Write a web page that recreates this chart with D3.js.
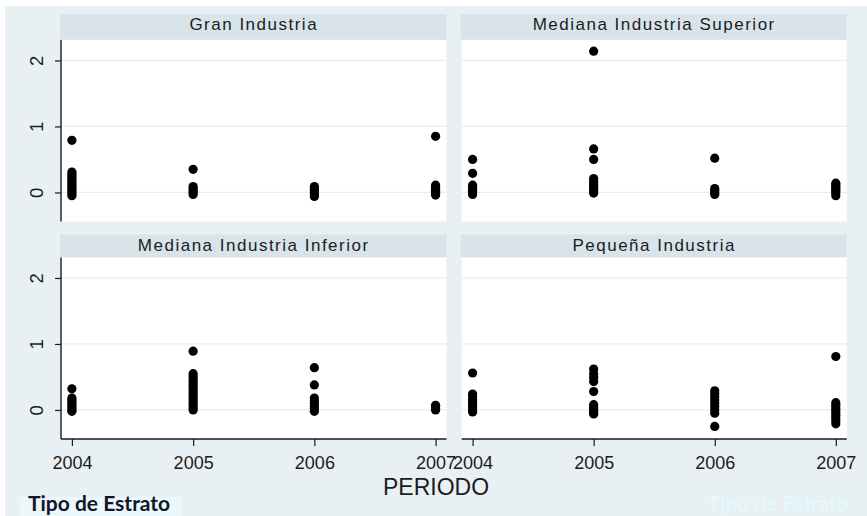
<!DOCTYPE html>
<html>
<head>
<meta charset="utf-8">
<script src="https://cdn.jsdelivr.net/npm/d3@7"></script>
<style>
  html, body { margin: 0; padding: 0; background: #ffffff; }
  svg { display: block; }
  .tick text { font-family: "Liberation Sans", Arial, sans-serif; fill: #1c1c1c; }
</style>
</head>
<body>
<svg id="chart" width="867" height="516"></svg>
<script>
// Periods on the x axis and the strata shown as facets
const periods = [2004, 2005, 2006, 2007];
const strata = ["Gran Industria", "Mediana Industria Superior", "Mediana Industria Inferior", "Pequeña Industria"];
const yTicks = [0, 1, 2];

// Observed values by stratum, one list per period (2004..2007)
const granIndustria = [
  [0.79, 0.31, 0.28, 0.25, 0.22, 0.19, 0.16, 0.13, 0.10, 0.07, 0.04, 0.01, -0.02, -0.05],
  [0.35, 0.09, 0.06, 0.03, 0.0, -0.03],
  [0.09, 0.06, 0.03, 0.0, -0.03, -0.06],
  [0.85, 0.11, 0.08, 0.05, 0.02, 0.0, -0.02, -0.04]
];
const medianaSuperior = [
  [0.50, 0.29, 0.11, 0.08, 0.05, 0.02, 0.0, -0.03],
  [2.14, 0.66, 0.50, 0.21, 0.17, 0.13, 0.10, 0.07, 0.04, 0.01, -0.01],
  [0.52, 0.06, 0.03, 0.0, -0.03],
  [0.14, 0.11, 0.08, 0.05, 0.02, -0.01, -0.05]
];
const medianaInferior = [
  [0.32, 0.18, 0.15, 0.12, 0.09, 0.06, 0.03, 0.0, -0.02],
  [0.89, 0.55, 0.51, 0.47, 0.43, 0.39, 0.35, 0.31, 0.27, 0.23, 0.19, 0.15, 0.11, 0.07, 0.03, 0.0],
  [0.64, 0.38, 0.18, 0.14, 0.10, 0.06, 0.02, -0.02],
  [0.07, 0.05, 0.02, 0.0]
];
const pequena = [
  [0.56, 0.24, 0.20, 0.16, 0.12, 0.08, 0.04, 0.0, -0.03],
  [0.62, 0.55, 0.49, 0.43, 0.28, 0.08, 0.05, 0.02, -0.01, -0.04, -0.06],
  [0.29, 0.25, 0.20, 0.15, 0.10, 0.05, 0.0, -0.05, -0.25],
  [0.81, 0.11, 0.07, 0.03, 0.0, -0.04, -0.08, -0.12, -0.16, -0.21]
];
const seriesByStratum = [granIndustria, medianaSuperior, medianaInferior, pequena];

const xTitle = "PERIODO";
const noteLeft = "Tipo de Estrato";

const svg = d3.select("#chart");
const W = 867, H = 516;

// graph region background
svg.append("rect").attr("x", 5).attr("y", 6).attr("width", W - 5).attr("height", H - 6)
  .attr("fill", "#e9f0f3");

// facet geometry
const cols = [[61, 446.5], [461.7, 846.7]];
const rows = [{ strip: [14, 39.5], plot: [40, 221.5] }, { strip: [234.5, 257.5], plot: [257.5, 439] }];
const yDomain = [-0.44, 2.31];
const xDomain = [2003.91, 2007.09];

strata.forEach((name, i) => {
  const r = Math.floor(i / 2), c = i % 2;
  const [x0, x1] = cols[c];
  const row = rows[r];
  const x = d3.scaleLinear().domain(xDomain).range([x0, x1]);
  const y = d3.scaleLinear().domain(yDomain).range([row.plot[1], row.plot[0]]);
  const g = svg.append("g");

  // strip title
  g.append("rect").attr("x", x0 - 1).attr("y", row.strip[0])
    .attr("width", x1 - x0 + 1).attr("height", row.strip[1] - row.strip[0])
    .attr("fill", "#d8e4ea");
  g.append("text").attr("x", (x0 + x1) / 2).attr("y", row.strip[0] + 16)
    .attr("text-anchor", "middle")
    .style("font-family", "'Liberation Sans', Arial, sans-serif")
    .style("font-size", "17px").style("letter-spacing", "1.5px")
    .attr("fill", "#1c1c1c").text(name);

  // plot region
  g.append("rect").attr("x", x0).attr("y", row.plot[0])
    .attr("width", x1 - x0).attr("height", row.plot[1] - row.plot[0])
    .attr("fill", "#ffffff");

  // gridlines
  g.selectAll("line.grid").data(yTicks).join("line").attr("class", "grid")
    .attr("x1", x0).attr("x2", x1)
    .attr("y1", d => y(d)).attr("y2", d => y(d))
    .attr("stroke", "#e6eef1").attr("stroke-width", 1.2);

  // points
  const pts = [];
  seriesByStratum[i].forEach((vals, k) => vals.forEach(v => pts.push({ p: periods[k], v })));
  g.selectAll("circle").data(pts).join("circle")
    .attr("cx", d => x(d.p)).attr("cy", d => y(d.v)).attr("r", 4.6)
    .attr("fill", "#000000");

  // y axis on the left column
  if (c === 0) {
    const ya = g.append("g").attr("transform", `translate(${x0},0)`)
      .call(d3.axisLeft(y).tickValues(yTicks).tickSize(6).tickFormat(d3.format("d")));
    ya.select(".domain").attr("stroke", "#1a1a1a").attr("stroke-width", 1.4)
      .attr("d", `M0,${row.plot[0]}V${row.plot[1]}`);
    ya.selectAll(".tick line").attr("stroke", "#1a1a1a").attr("stroke-width", 1.2);
    ya.selectAll(".tick text")
      .attr("x", null).attr("dy", null)
      .attr("text-anchor", "middle")
      .attr("transform", "translate(-18,0) rotate(-90)")
      .style("font-size", "18.5px");
  }

  // x axis on the bottom row
  if (r === 1) {
    const xa = g.append("g").attr("transform", `translate(0,${row.plot[1]})`)
      .call(d3.axisBottom(x).tickValues(periods).tickSize(7).tickFormat(d3.format("d")));
    xa.select(".domain").attr("stroke", "#1a1a1a").attr("stroke-width", 1.4)
      .attr("d", `M${x0},0H${x1}`);
    xa.selectAll(".tick line").attr("stroke", "#1a1a1a").attr("stroke-width", 1.2);
    xa.selectAll(".tick text").attr("y", 30).attr("dy", null)
      .style("font-size", "18px");
  }
});

// overall x title
svg.append("text").attr("x", 436).attr("y", 495).attr("text-anchor", "middle")
  .style("font-family", "'Liberation Sans', Arial, sans-serif").style("font-size", "23px")
  .attr("fill", "#1c1c1c").text(xTitle);

// stratum notes at the foot
svg.append("rect").attr("x", 20).attr("y", 497).attr("width", 162).attr("height", 19)
  .attr("fill", "#eaf7fb");
svg.append("text").attr("x", 28).attr("y", 511)
  .style("font-family", "Lato, 'Open Sans', sans-serif").style("font-weight", "700")
  .style("font-size", "21px").attr("fill", "#15152a").text(noteLeft);
svg.append("text").attr("x", 708).attr("y", 511)
  .style("font-family", "Lato, 'Open Sans', sans-serif")
  .style("font-size", "21px").attr("fill", "#e2fbff").text(noteLeft);
</script>
</body>
</html>
